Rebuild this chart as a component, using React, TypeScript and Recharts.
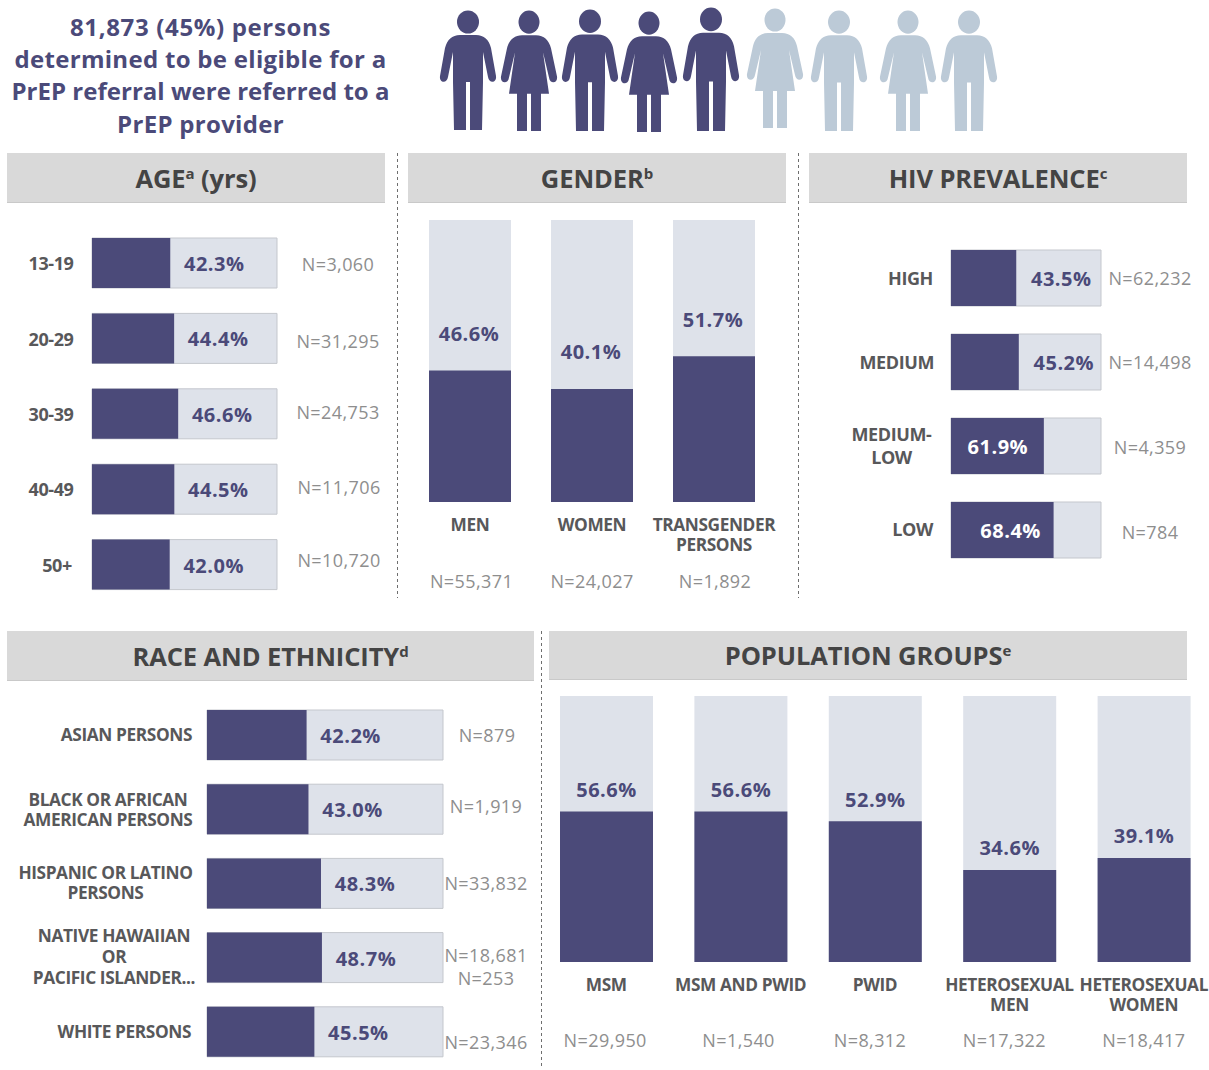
import React from "react";
import { BarChart, Bar, XAxis, YAxis, LabelList } from "recharts";

const titleLines = ["81,873 (45%) persons", "determined to be eligible for a", "PrEP referral were referred to a", "PrEP provider"];
const titleSpacing = [0.65, 0.3, 0.03, 0.3];

const personKinds = ["m", "f", "m", "f", "m", "f", "m", "f", "m"];
const personsReferred = 5;

const ageCategories = ["13-19", "20-29", "30-39", "40-49", "50+"];
const ageValues = [42.3, 44.4, 46.6, 44.5, 42.0];
const ageN = ["N=3,060", "N=31,295", "N=24,753", "N=11,706", "N=10,720"];

const genderCategories = ["MEN", "WOMEN", "TRANSGENDER\nPERSONS"];
const genderValues = [46.6, 40.1, 51.7];
const genderN = ["N=55,371", "N=24,027", "N=1,892"];

const hivCategories = ["HIGH", "MEDIUM", "MEDIUM-\nLOW", "LOW"];
const hivValues = [43.5, 45.2, 61.9, 68.4];
const hivN = ["N=62,232", "N=14,498", "N=4,359", "N=784"];

const raceCategories = [
  "ASIAN PERSONS",
  "BLACK OR AFRICAN\nAMERICAN PERSONS",
  "HISPANIC OR LATINO\nPERSONS",
  "NATIVE HAWAIIAN\nOR\nPACIFIC ISLANDER...",
  "WHITE PERSONS",
];
const raceValues = [42.2, 43.0, 48.3, 48.7, 45.5];
const raceN = ["N=879", "N=1,919", "N=33,832", "N=18,681\nN=253", "N=23,346"];

const popCategories = ["MSM", "MSM AND PWID", "PWID", "HETEROSEXUAL\nMEN", "HETEROSEXUAL\nWOMEN"];
const popValues = [56.6, 56.6, 52.9, 34.6, 39.1];
const popN = ["N=29,950", "N=1,540", "N=8,312", "N=17,322", "N=18,417"];

const DARK = "#4B4A79";
const LIGHT = "#DEE2EA";
const EDGE = "#C4C7CD";
const PERSON_LIGHT = "#BCCAD7";
const CAT = "#58585A";
const NGREY = "#8E8E8E";
const FONT = "'Open Sans', sans-serif";

const table = (cats: string[], vals: number[], ns: string[]) =>
  cats.map((c, i) => ({ category: c, value: vals[i], n: ns[i] }));

const CatText = ({ x, y, text, anchor, lh, size }: any) => (
  <text x={x} textAnchor={anchor} fontFamily={FONT} fontWeight={700} fontSize={size} letterSpacing={-0.4} fill={CAT}>
    {text.split("\n").map((t: string, i: number) => (
      <tspan key={i} x={x} y={y + i * lh} dominantBaseline="central">{t}</tspan>
    ))}
  </text>
);

const NText = ({ x, y, text, lh }: any) => (
  <text x={x} textAnchor="middle" fontFamily={FONT} fontSize={18} letterSpacing={0.4} fill={NGREY}>
    {text.split("\n").map((t: string, i: number) => (
      <tspan key={i} x={x} y={y + i * lh} dominantBaseline="central">{t}</tspan>
    ))}
  </text>
);

const pctLabel = (xFn: (i: number, p: any) => number, yFn: (i: number, p: any) => number, colorFn: (i: number) => string) =>
  (p: any) => (
    <text
      x={xFn(p.index, p)}
      y={yFn(p.index, p)}
      textAnchor="middle"
      dominantBaseline="central"
      fontFamily={FONT}
      fontWeight={700}
      fontSize={20}
      letterSpacing={0.5}
      fill={colorFn(p.index)}
    >
      {Number(p.value).toFixed(1)}%
    </text>
  );

function HBars({ left, top, axisW, plotW, rightW, height, barSize, data, cat, n, catSize, pctDx, pctDy, pctColor }: any) {
  const tick = (p: any) => {
    const i = p.index;
    return (
      <g>
        <CatText x={cat[i].x - left} y={p.y + cat[i].dy} text={p.payload.value} anchor={cat[i].anchor} lh={cat[i].lh || 20} size={catSize} />
        <NText x={n[i].x - left} y={p.y + n[i].dy} text={data[i].n} lh={23} />
      </g>
    );
  };
  return (
    <div style={{ position: "absolute", left, top }}>
      <BarChart
        width={axisW + plotW + rightW}
        height={height}
        layout="vertical"
        data={data}
        margin={{ top: 0, right: rightW, bottom: 0, left: 0 }}
      >
        <XAxis type="number" domain={[0, 100]} hide />
        <YAxis type="category" dataKey="category" width={axisW} interval={0} axisLine={false} tickLine={false} tick={tick} />
        <Bar
          dataKey="value"
          fill={DARK}
          barSize={barSize}
          isAnimationActive={false}
          background={{ fill: LIGHT, stroke: EDGE, strokeWidth: 1 }}
        >
          <LabelList
            dataKey="value"
            content={pctLabel(
              (i, p) => p.x + p.width + pctDx(i),
              (i, p) => p.y + p.height / 2 + pctDy,
              pctColor
            )}
          />
        </Bar>
      </BarChart>
    </div>
  );
}

function VBars({ left, top, width, height, mLeft, mRight, axisH, barSize, data, labelY, nY, nDx, pctCenter, pctUp }: any) {
  const tick = (p: any) => {
    const i = p.index;
    return (
      <g>
        <CatText x={p.x} y={labelY} text={p.payload.value} anchor="middle" lh={20.5} size={17.3} />
        <NText x={p.x + nDx[i]} y={nY} text={data[i].n} lh={23} />
      </g>
    );
  };
  return (
    <div style={{ position: "absolute", left, top }}>
      <BarChart width={width} height={height} data={data} margin={{ top: 0, right: mRight, bottom: 0, left: mLeft }}>
        <XAxis dataKey="category" height={axisH} interval={0} axisLine={false} tickLine={false} tick={tick} />
        <YAxis type="number" domain={[0, 100]} hide />
        <Bar dataKey="value" fill={DARK} barSize={barSize} isAnimationActive={false} background={{ fill: LIGHT }}>
          <LabelList
            dataKey="value"
            content={pctLabel(
              (i, p) => p.x + p.width / 2 + pctCenter[i],
              (i, p) => p.y - pctUp,
              () => DARK
            )}
          />
        </Bar>
      </BarChart>
    </div>
  );
}

const Header = ({ x, y, w, h, text, sup }: any) => (
  <div
    style={{
      position: "absolute", left: x, top: y, width: w, height: h, background: "#D9D9D9",
      borderBottom: "1px solid #C9C9C9", display: "flex", alignItems: "center", justifyContent: "center",
      fontFamily: FONT, fontWeight: 700, fontSize: 25.5, letterSpacing: -0.1, color: "#444444", boxSizing: "border-box",
    }}
  >
    <span style={{ whiteSpace: "pre" }}>
      {text[0]}
      <span style={{ fontSize: 15, position: "relative", top: -9 }}>{sup}</span>
      {text[1]}
    </span>
  </div>
);

const MALE = "M-8 35L8 35C16 35 21 40 23 48L28 76C29 83 21 84 20 77L15 52L15 82L14 130L2 130L2 82L-2 82L-2 130L-14 130L-15 82L-15 52L-20 77C-21 84-29 83-28 76L-23 48C-21 40-16 35-8 35Z";
const FEMALE = "M-7 35L7 35C15 35 20 40 22 48L28 76C29 83 21 84 20 77L14 52L20 93L12 93L12 130L2 130L2 93L-2 93L-2 130L-12 130L-12 93L-20 93L-14 52L-20 77C-21 84-29 83-28 76L-22 48C-20 40-15 35-7 35Z";
const personX = [468, 529, 590, 649, 711, 775, 839, 908, 969];
const personTop = [11, 11, 10, 12, 8, 9, 11, 11, 11];
const personBottom = [130, 131, 131, 132, 131, 128, 131, 131, 131];

const ageRows = [
  { x: 51, dy: 0, anchor: "middle" }, { x: 51, dy: 0.5, anchor: "middle" }, { x: 51, dy: 0, anchor: "middle" },
  { x: 51, dy: 0, anchor: "middle" }, { x: 57, dy: 1, anchor: "middle" },
];
const ageNRows = [{ x: 338, dy: 1.5 }, { x: 338, dy: 2.5 }, { x: 338, dy: -1.5 }, { x: 339, dy: -1.5 }, { x: 339, dy: -4.5 }];
const hivRows = [
  { x: 933, dy: 0, anchor: "end" }, { x: 934, dy: 0, anchor: "end" },
  { x: 891.5, dy: -12, anchor: "middle", lh: 23 }, { x: 933, dy: -1, anchor: "end" },
];
const hivNRows = [{ x: 1150, dy: 0 }, { x: 1150, dy: 0 }, { x: 1150, dy: 1 }, { x: 1150, dy: 2 }];
const raceRows = [
  { x: 192, dy: -1, anchor: "end" }, { x: 108, dy: -10, anchor: "middle" }, { x: 105.5, dy: -11, anchor: "middle" },
  { x: 114, dy: -22, anchor: "middle", lh: 21 }, { x: 191, dy: 0, anchor: "end" },
];
const raceNRows = [{ x: 487, dy: 0 }, { x: 486, dy: -3 }, { x: 486, dy: -1 }, { x: 486, dy: -3 }, { x: 486, dy: 10 }];

export default function App() {
  return (
    <div style={{ position: "absolute", left: 0, top: 0, width: 1209, height: 1070, background: "#fff", overflow: "hidden" }}>
      <svg width={1209} height={1070} style={{ position: "absolute", left: 0, top: 0 }}>
        {titleLines.map((t, i) => (
          <text key={t} x={200.5} y={26.5 + i * 32.2} textAnchor="middle" dominantBaseline="central" fontFamily={FONT} fontWeight={700} fontSize={24} letterSpacing={titleSpacing[i]} fill={DARK}>
            {t}
          </text>
        ))}
        {personKinds.map((k, i) => {
          const color = i < personsReferred ? DARK : PERSON_LIGHT;
          const s = (personBottom[i] - personTop[i]) / 119;
          return (
            <g key={i} transform={`translate(${personX[i]},${personTop[i]}) scale(1,${s}) translate(0,-11)`} fill={color}>
              <ellipse cx={0} cy={22} rx={k === "m" ? 11 : 10.5} ry={11.5} />
              <path d={k === "m" ? MALE : FEMALE} />
            </g>
          );
        })}
        <g stroke="#6E6E6E" strokeWidth={1} strokeDasharray="3 3" fill="none">
          <line x1={397.5} y1={153} x2={397.5} y2={598} />
          <line x1={798.5} y1={153} x2={798.5} y2={598} />
          <line x1={541.5} y1={631} x2={541.5} y2={1068} />
        </g>
      </svg>

      <Header x={7} y={153} w={378} h={50} text={["AGE", " (yrs)"]} sup="a" />
      <Header x={408} y={153} w={378} h={50} text={["GENDER", ""]} sup="b" />
      <Header x={809} y={153} w={378} h={50} text={["HIV PREVALENCE", ""]} sup="c" />
      <Header x={7} y={631} w={527} h={50} text={["RACE AND ETHNICITY", ""]} sup="d" />
      <Header x={549} y={631} w={638} h={49} text={["POPULATION GROUPS", ""]} sup="e" />

      <HBars
        left={0} top={225} axisW={92} plotW={185} rightW={120} height={377} barSize={50}
        data={table(ageCategories, ageValues, ageN)}
        cat={ageRows} n={ageNRows} catSize={18}
        pctDx={() => 44} pctDy={0.5} pctColor={() => DARK}
      />
      <VBars
        left={389} top={220} width={406} height={380} mLeft={20} mRight={20} axisH={98} barSize={82}
        data={table(genderCategories, genderValues, genderN)}
        labelY={304} nY={361} nDx={[1.5, 0, 1]}
        pctCenter={[-1, -1, -1]} pctUp={37}
      />
      <HBars
        left={800} top={236} axisW={151} plotW={150} rightW={100} height={336} barSize={56}
        data={table(hivCategories, hivValues, hivN)}
        cat={hivRows} n={hivNRows} catSize={18}
        pctDx={(i: number) => [45, 45, -46, -43][i]} pctDy={0} pctColor={(i: number) => (i >= 2 ? "#fff" : DARK)}
      />
      <HBars
        left={0} top={698} axisW={207} plotW={236} rightW={97} height={371} barSize={50}
        data={table(raceCategories, raceValues, raceN)}
        cat={raceRows} n={raceNRows} catSize={17.3}
        pctDx={() => 44} pctDy={0.5} pctColor={() => DARK}
      />
      <VBars
        left={538.8} top={696} width={670} height={364} mLeft={0} mRight={-2} axisH={98} barSize={93}
        data={table(popCategories, popValues, popN)}
        labelY={288} nY={344} nDx={[-1, -2, -5, -5, 0]}
        pctCenter={[0, 0, 0, 0, 0]} pctUp={22}
      />
    </div>
  );
}
